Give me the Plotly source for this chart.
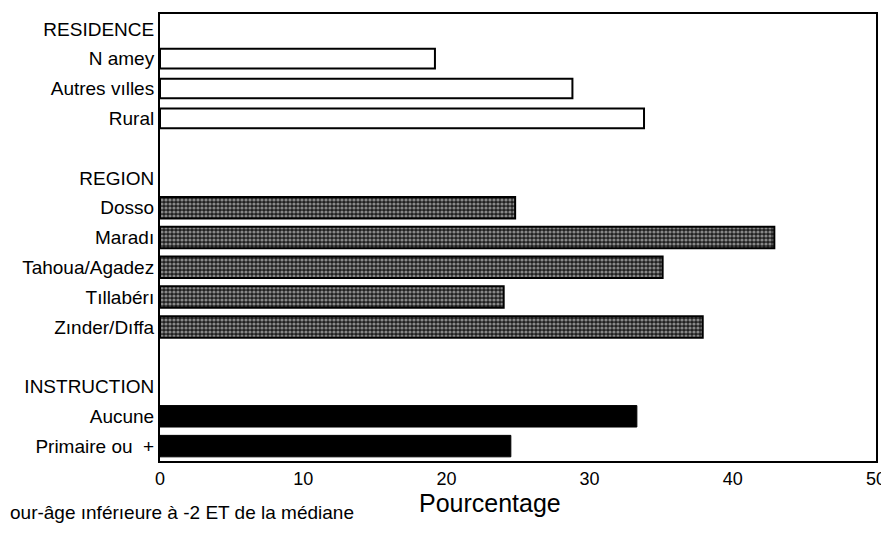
import plotly.graph_objects as go

# Data
rows = ["RESIDENCE", "Niamey", "Autres villes", "Rural", " ",
        "REGION", "Dosso", "Maradi", "Tahoua/Agadez", "Tillabéri", "Zinder/Diffa", "  ",
        "INSTRUCTION", "Aucune", "Primaire ou +"]
tick_text = ["RESIDENCE", "N amey", "Autres vılles", "Rural", "",
             "REGION", "Dosso", "Maradı", "Tahoua/Agadez", "Tıllabérı", "Zınder/Dıffa", "",
             "INSTRUCTION", "Aucune", "Primaire ou  +"]

residence_cat = ["Niamey", "Autres villes", "Rural"]
residence_val = [19.2, 28.8, 33.8]

region_cat = ["Dosso", "Maradi", "Tahoua/Agadez", "Tillabéri", "Zinder/Diffa"]
region_val = [24.8, 42.9, 35.1, 24.0, 37.9]

instruction_cat = ["Aucune", "Primaire ou +"]
instruction_val = [33.3, 24.5]

x_ticks = [0, 10, 20, 30, 40, 50]

FONT = "Liberation Sans, Arial, Helvetica, sans-serif"

fig = go.Figure()
fig.add_trace(go.Bar(
    y=residence_cat, x=residence_val, orientation="h", width=0.66,
    marker=dict(color="white", line=dict(color="black", width=2)),
    showlegend=False))
fig.add_trace(go.Bar(
    y=region_cat, x=region_val, orientation="h", width=0.72,
    marker=dict(color="#3a3a3a", line=dict(color="black", width=2),
                pattern=dict(shape=".", fgcolor="#f0f0f0", bgcolor="#202020",
                             size=4, solidity=0.5)),
    showlegend=False))
fig.add_trace(go.Bar(
    y=instruction_cat, x=instruction_val, orientation="h", width=0.72,
    marker=dict(color="black", line=dict(color="black", width=1)),
    showlegend=False))

fig.update_yaxes(
    categoryorder="array", categoryarray=rows[::-1],
    tickmode="array", tickvals=rows, ticktext=tick_text,
    range=[-0.5, len(rows) - 0.5],
    showline=True, linecolor="black", linewidth=2, mirror=True,
    showgrid=False, ticks="", ticklen=0, automargin=False,
    tickfont=dict(family=FONT, size=19, color="black"))
fig.update_xaxes(
    range=[0, 50], tickvals=x_ticks, ticktext=[str(v) for v in x_ticks],
    showline=True, linecolor="black", linewidth=2, mirror=True,
    showgrid=False, zeroline=False, ticks="", automargin=False,
    tickfont=dict(family=FONT, size=18, color="black"))

fig.add_annotation(text="Pourcentage", xref="paper", yref="paper",
                   x=(490 - 160) / 716, y=-(503 - 461) / 447,
                   xanchor="center", yanchor="middle", showarrow=False,
                   font=dict(family=FONT, size=25, color="black"))
fig.add_annotation(text="our-âge ınférıeure à -2 ET de la médiane",
                   xref="paper", yref="paper",
                   x=-(160 - 8) / 716, y=-(512 - 461) / 447,
                   xanchor="left", yanchor="middle", showarrow=False,
                   font=dict(family=FONT, size=19, color="black"))

# page body has an 8px margin: the figure is offset by (8, 8)
fig.update_layout(
    width=881, height=529,
    margin=dict(l=152, r=13, t=6, b=76),
    plot_bgcolor="white", paper_bgcolor="white",
    bargap=0.3, barmode="overlay",
    font=dict(family=FONT, color="black"))

fig.write_html("out.html")
